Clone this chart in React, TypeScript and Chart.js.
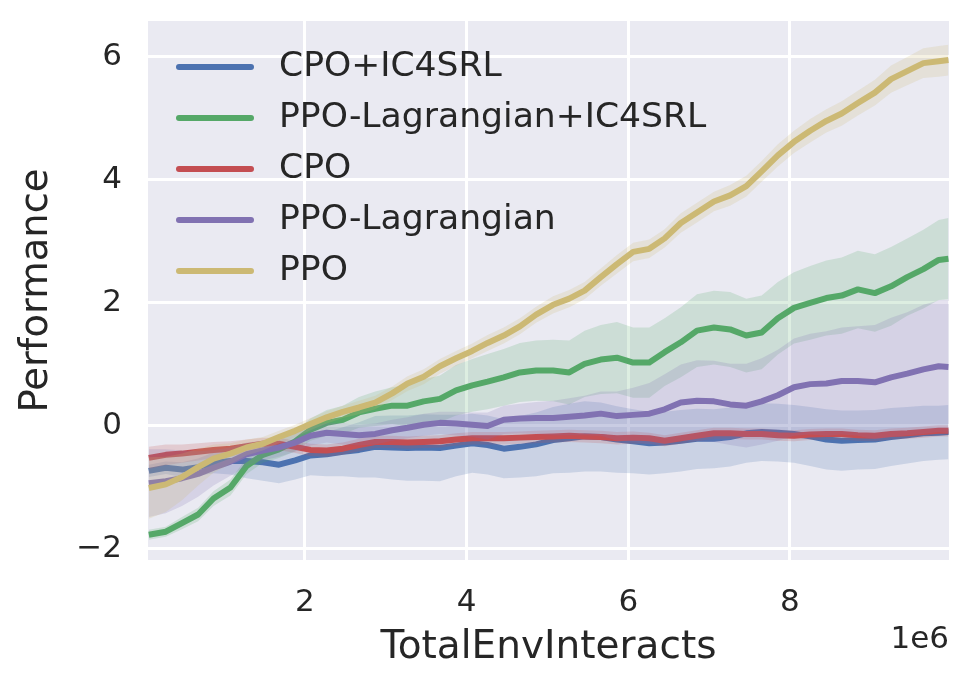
import { useEffect, useRef } from "react";
import { Chart, registerables } from "chart.js";

Chart.register(...registerables);

// x positions (units of 1e6 interactions)
const X = [0.07, 0.28, 0.48, 0.68, 0.87, 1.08, 1.28, 1.48, 1.68, 1.88, 2.07, 2.27, 2.47, 2.67, 2.87, 3.08, 3.27, 3.47, 3.67, 3.87, 4.07, 4.26, 4.46, 4.66, 4.86, 5.07, 5.27, 5.46, 5.66, 5.86, 6.06, 6.26, 6.45, 6.65, 6.85, 7.06, 7.26, 7.46, 7.65, 7.85, 8.05, 8.25, 8.45, 8.64, 8.84, 9.05, 9.25, 9.45, 9.65, 9.84, 9.96];

const X_TICKS = [2, 4, 6, 8];
const Y_TICKS = [-2, 0, 2, 4, 6];

const NAMES = ["CPO+IC4SRL", "PPO-Lagrangian+IC4SRL", "CPO", "PPO-Lagrangian", "PPO"];
const COLORS = ["#4C72B0", "#55A868", "#C44E52", "#8172B2", "#CCB974"];
const BAND_COLORS = ["rgba(76,114,176,0.2)", "rgba(85,168,104,0.2)", "rgba(196,78,82,0.2)", "rgba(129,114,178,0.2)", "rgba(204,185,116,0.2)"];

const cpoIcMean = [-0.73, -0.68, -0.71, -0.67, -0.6, -0.57, -0.57, -0.59, -0.63, -0.56, -0.48, -0.46, -0.42, -0.39, -0.34, -0.35, -0.36, -0.35, -0.36, -0.32, -0.28, -0.31, -0.37, -0.34, -0.3, -0.23, -0.2, -0.17, -0.18, -0.22, -0.25, -0.28, -0.27, -0.24, -0.21, -0.21, -0.18, -0.12, -0.1, -0.11, -0.13, -0.17, -0.22, -0.24, -0.23, -0.22, -0.18, -0.15, -0.12, -0.11, -0.1];
const cpoIcSd = [0.1, 0.1, 0.12, 0.14, 0.17, 0.22, 0.28, 0.3, 0.3, 0.31, 0.32, 0.36, 0.4, 0.45, 0.5, 0.52, 0.53, 0.54, 0.54, 0.5, 0.48, 0.48, 0.48, 0.5, 0.52, 0.54, 0.56, 0.57, 0.56, 0.54, 0.52, 0.51, 0.5, 0.5, 0.49, 0.48, 0.48, 0.48, 0.47, 0.47, 0.47, 0.48, 0.49, 0.49, 0.48, 0.48, 0.47, 0.46, 0.45, 0.44, 0.44];

const ppoLagIcMean = [-1.77, -1.72, -1.58, -1.44, -1.18, -1.0, -0.65, -0.47, -0.38, -0.25, -0.06, 0.05, 0.1, 0.22, 0.28, 0.33, 0.33, 0.4, 0.44, 0.58, 0.66, 0.72, 0.79, 0.87, 0.9, 0.9, 0.87, 1.01, 1.08, 1.11, 1.03, 1.03, 1.2, 1.36, 1.55, 1.6, 1.57, 1.47, 1.52, 1.75, 1.92, 2.0, 2.08, 2.12, 2.22, 2.16, 2.27, 2.42, 2.55, 2.7, 2.72];
const ppoLagIcSd = [0.08, 0.08, 0.1, 0.11, 0.12, 0.13, 0.13, 0.13, 0.14, 0.16, 0.18, 0.21, 0.23, 0.25, 0.28, 0.3, 0.34, 0.36, 0.38, 0.41, 0.43, 0.45, 0.46, 0.48, 0.49, 0.5, 0.52, 0.54, 0.56, 0.58, 0.57, 0.57, 0.55, 0.57, 0.59, 0.6, 0.61, 0.6, 0.6, 0.59, 0.58, 0.6, 0.61, 0.62, 0.63, 0.63, 0.64, 0.63, 0.64, 0.65, 0.66];

const cpoMean = [-0.52, -0.47, -0.45, -0.42, -0.39, -0.37, -0.33, -0.29, -0.29, -0.34, -0.39, -0.4, -0.37, -0.31, -0.26, -0.26, -0.27, -0.26, -0.25, -0.22, -0.2, -0.2, -0.2, -0.19, -0.18, -0.17, -0.16, -0.17, -0.18, -0.2, -0.19, -0.2, -0.24, -0.2, -0.16, -0.12, -0.12, -0.13, -0.13, -0.15, -0.16, -0.14, -0.13, -0.13, -0.15, -0.16, -0.13, -0.12, -0.1, -0.08, -0.08];
const cpoSd = [0.18, 0.17, 0.15, 0.14, 0.13, 0.12, 0.11, 0.1, 0.1, 0.1, 0.1, 0.1, 0.1, 0.1, 0.1, 0.1, 0.1, 0.1, 0.1, 0.1, 0.1, 0.1, 0.1, 0.1, 0.1, 0.1, 0.1, 0.1, 0.1, 0.1, 0.1, 0.09, 0.09, 0.09, 0.09, 0.09, 0.09, 0.09, 0.09, 0.09, 0.09, 0.09, 0.09, 0.09, 0.09, 0.09, 0.09, 0.09, 0.09, 0.09, 0.09];

const ppoLagMean = [-0.93, -0.9, -0.85, -0.78, -0.68, -0.58, -0.46, -0.4, -0.35, -0.27, -0.16, -0.11, -0.13, -0.15, -0.13, -0.07, -0.03, 0.02, 0.05, 0.04, 0.02, 0.0, 0.1, 0.12, 0.13, 0.13, 0.15, 0.17, 0.2, 0.16, 0.18, 0.2, 0.27, 0.38, 0.41, 0.4, 0.35, 0.33, 0.4, 0.5, 0.63, 0.68, 0.69, 0.73, 0.73, 0.71, 0.79, 0.85, 0.92, 0.97, 0.96];
const ppoLagSd = [0.55, 0.52, 0.45, 0.37, 0.29, 0.23, 0.19, 0.16, 0.15, 0.15, 0.16, 0.16, 0.17, 0.17, 0.17, 0.17, 0.17, 0.18, 0.18, 0.19, 0.2, 0.22, 0.23, 0.24, 0.26, 0.28, 0.3, 0.32, 0.36, 0.4, 0.44, 0.5, 0.57, 0.62, 0.66, 0.66, 0.66, 0.68, 0.7, 0.74, 0.79, 0.82, 0.85, 0.87, 0.89, 0.93, 0.97, 1.0, 1.05, 1.07, 1.08];

const ppoMean = [-1.01, -0.95, -0.83, -0.67, -0.53, -0.45, -0.35, -0.29, -0.18, -0.08, 0.03, 0.14, 0.23, 0.3, 0.38, 0.53, 0.69, 0.8, 0.97, 1.1, 1.22, 1.35, 1.47, 1.62, 1.81, 1.97, 2.07, 2.2, 2.42, 2.63, 2.83, 2.88, 3.05, 3.3, 3.47, 3.65, 3.75, 3.9, 4.14, 4.4, 4.62, 4.8, 4.96, 5.08, 5.25, 5.42, 5.64, 5.77, 5.9, 5.93, 5.95];
const ppoSd = [0.5, 0.45, 0.38, 0.3, 0.23, 0.17, 0.13, 0.11, 0.1, 0.1, 0.1, 0.1, 0.1, 0.11, 0.11, 0.11, 0.12, 0.12, 0.12, 0.12, 0.12, 0.13, 0.13, 0.13, 0.13, 0.14, 0.14, 0.14, 0.14, 0.15, 0.15, 0.15, 0.15, 0.16, 0.16, 0.16, 0.17, 0.17, 0.17, 0.18, 0.18, 0.19, 0.19, 0.2, 0.2, 0.21, 0.22, 0.23, 0.24, 0.25, 0.25];

const MEANS = [cpoIcMean, ppoLagIcMean, cpoMean, ppoLagMean, ppoMean];
const SDS = [cpoIcSd, ppoLagIcSd, cpoSd, ppoLagSd, ppoSd];

const TEXT = "#262626";
const FONT = "'DejaVu Sans', sans-serif";

export default function App() {
  const ref = useRef<HTMLCanvasElement>(null);

  useEffect(() => {
    if (!ref.current) return;
    const datasets: any[] = [];
    NAMES.forEach((name, i) => {
      const mean = MEANS[i];
      const sd = SDS[i];
      const lowerIdx = datasets.length;
      const base = 100 - i * 3;
      datasets.push({
        label: name + " lower",
        data: X.map((x, j) => ({ x, y: mean[j] - sd[j] })),
        borderColor: "rgba(0,0,0,0)",
        borderWidth: 0,
        pointRadius: 0,
        fill: false,
        order: base,
      });
      datasets.push({
        label: name + " upper",
        data: X.map((x, j) => ({ x, y: mean[j] + sd[j] })),
        borderColor: "rgba(0,0,0,0)",
        borderWidth: 0,
        pointRadius: 0,
        backgroundColor: BAND_COLORS[i],
        fill: lowerIdx,
        order: base - 1,
      });
      datasets.push({
        label: name,
        data: X.map((x, j) => ({ x, y: mean[j] })),
        borderColor: COLORS[i],
        borderWidth: 6,
        borderJoinStyle: "round",
        borderCapStyle: "butt",
        pointRadius: 0,
        fill: false,
        order: base - 2,
      });
    });

    const bgPlugin = {
      id: "bg",
      beforeDraw(chart: any) {
        const { ctx, chartArea } = chart;
        ctx.save();
        ctx.fillStyle = "#EAEAF2";
        ctx.fillRect(chartArea.left, chartArea.top, chartArea.right - chartArea.left, chartArea.bottom - chartArea.top);
        ctx.restore();
      },
    };

    const legendPlugin = {
      id: "innerLegend",
      afterDatasetsDraw(chart: any) {
        const { ctx } = chart;
        ctx.save();
        NAMES.forEach((name, i) => {
          const y = 67 + i * 51;
          ctx.strokeStyle = COLORS[i];
          ctx.lineWidth = 6;
          ctx.lineCap = "round";
          ctx.beginPath();
          ctx.moveTo(179, y);
          ctx.lineTo(251, y);
          ctx.stroke();
          ctx.fillStyle = TEXT;
          ctx.font = `34.6px ${FONT}`;
          ctx.textAlign = "left";
          ctx.textBaseline = "middle";
          ctx.fillText(name, 279, y);
        });
        ctx.restore();
      },
      afterDraw(chart: any) {
        const { ctx, chartArea } = chart;
        ctx.save();
        ctx.fillStyle = TEXT;
        ctx.font = `31px ${FONT}`;
        ctx.textAlign = "right";
        ctx.textBaseline = "middle";
        ctx.fillText("1e6", chartArea.right, 640);
        ctx.restore();
      },
    };

    const chart = new Chart(ref.current, {
      type: "line",
      data: { datasets },
      options: {
        animation: false,
        responsive: false,
        devicePixelRatio: 1,
        layout: { padding: { top: 21, right: 21, left: 0, bottom: 0 } },
        plugins: { legend: { display: false }, tooltip: { enabled: false } },
        elements: { line: { tension: 0 } },
        scales: {
          x: {
            type: "linear",
            min: 0.06,
            max: 9.967,
            afterBuildTicks: (s: any) => {
              s.ticks = X_TICKS.map((v) => ({ value: v }));
            },
            afterFit: (s: any) => {
              s.height = 133;
              s.paddingLeft = 0;
              s.paddingRight = 0;
              s.paddingTop = 0;
              s.paddingBottom = 0;
            },
            grid: { color: "#FFFFFF", lineWidth: 3, drawTicks: false },
            border: { display: false },
            ticks: {
              color: TEXT,
              font: { family: FONT, size: 31 },
              padding: 24,
              maxRotation: 0,
              autoSkip: false,
            },
            title: {
              display: true,
              text: "TotalEnvInteracts",
              color: TEXT,
              font: { family: FONT, size: 39 },
              padding: { top: 0, bottom: 22 },
            },
          },
          y: {
            type: "linear",
            min: -2.18,
            max: 6.585,
            afterBuildTicks: (s: any) => {
              s.ticks = Y_TICKS.map((v) => ({ value: v }));
            },
            afterFit: (s: any) => {
              s.width = 148;
              s.paddingLeft = 0;
              s.paddingRight = 0;
              s.paddingTop = 0;
              s.paddingBottom = 0;
            },
            grid: { color: "#FFFFFF", lineWidth: 3, drawTicks: false },
            border: { display: false },
            ticks: {
              color: TEXT,
              font: { family: FONT, size: 31 },
              padding: 26,
              autoSkip: false,
              callback: (v: any) => (Number(v) < 0 ? "\u2212" + Math.abs(Number(v)) : String(v)),
            },
            title: {
              display: true,
              text: "Performance",
              color: TEXT,
              font: { family: FONT, size: 38.5 },
              padding: { top: 14, bottom: 0 },
            },
          },
        },
      },
      plugins: [bgPlugin, legendPlugin],
    });

    return () => chart.destroy();
  }, []);

  return (
    <div style={{ position: "absolute", left: 0, top: 0, width: 970, height: 693, background: "#FFFFFF" }}>
      <canvas ref={ref} width={970} height={693} style={{ width: 970, height: 693 }} />
    </div>
  );
}
